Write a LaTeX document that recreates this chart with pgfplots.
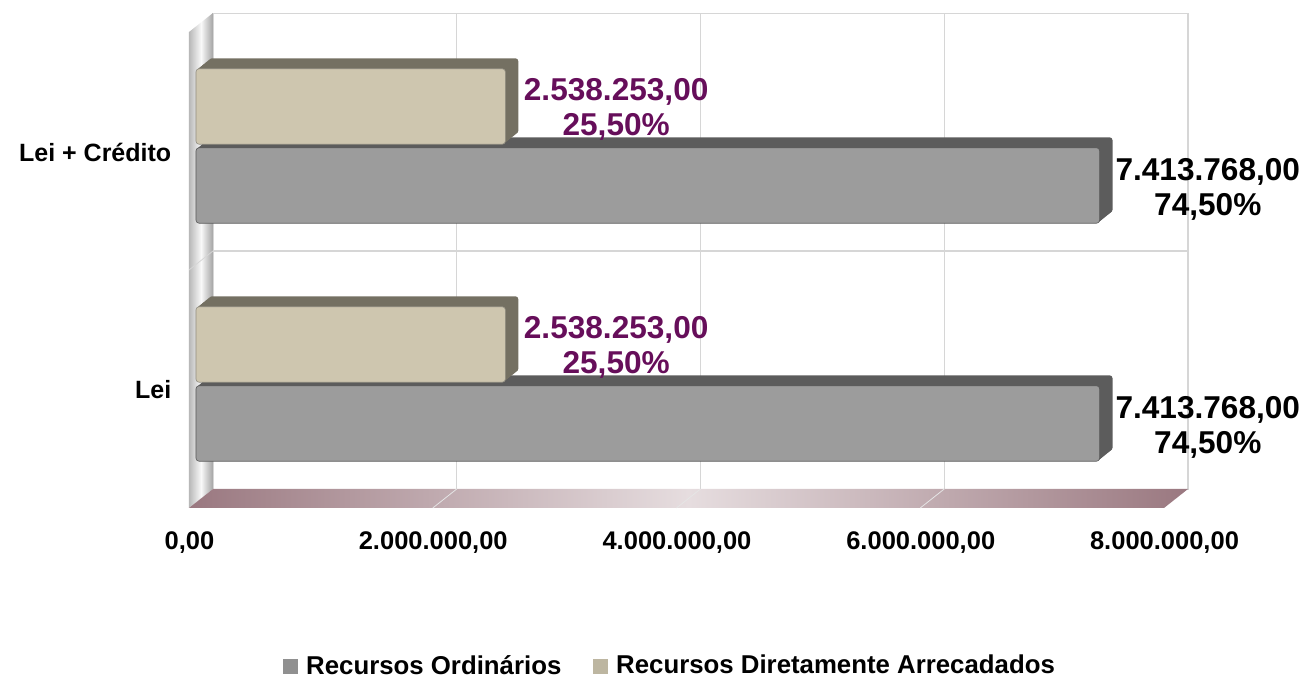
\documentclass[border=0pt]{standalone}
\usepackage{pgfplots}
\pgfplotsset{compat=1.18}
\usepackage{fontspec}
\setmainfont{Liberation Sans}
\definecolor{grayfront}{HTML}{9C9C9C}
\definecolor{graydark}{HTML}{5C5C5C}
\definecolor{beigefront}{HTML}{CEC6AF}
\definecolor{beigedark}{HTML}{747062}
\definecolor{lblpurple}{HTML}{660E5A}
\definecolor{gridc}{HTML}{D6D6D6}
\definecolor{floorc}{HTML}{9A7880}
\definecolor{floorlight}{HTML}{E6DDDF}
\definecolor{wallA}{HTML}{B8B8B8}
\definecolor{wallB}{HTML}{A4A4A4}
\begin{document}
\begin{tikzpicture}
\useasboundingbox (0,0) rectangle (653.5pt,339.5pt);
\begin{axis}[
  at={(106.5pt,95pt)}, anchor=south west,
  scale only axis, width=487.5pt, height=238pt,
  xmin=0, xmax=8000000, ymin=-0.5, ymax=1.5,
  clip=false,
  scaled x ticks=false,
  axis line style={draw=gridc},
  xtick={0,2000000,4000000,6000000,8000000},
  xticklabels={{0,00},{2.000.000,00},{4.000.000,00},{6.000.000,00},{8.000.000,00}},
  ytick={0,1}, yticklabels={Lei, Lei + Crédito},
  minor ytick={0.5},
  xmajorgrids, yminorgrids,
  major grid style={draw=gridc, line width=0.6pt},
  minor grid style={draw=gridc, line width=0.6pt},
  major tick length=0pt, minor tick length=0pt,
  xticklabel style={font=\bfseries\fontsize{12.75}{14}\selectfont, anchor=north, xshift=-11.75pt, yshift=-17.75pt},
  yticklabel style={font=\bfseries\fontsize{12.5}{14}\selectfont, anchor=east, xshift=-17.35pt, yshift=-10pt},
  legend columns=2,
  legend cell align=left,
  legend style={draw=none, fill=none, at={(axis description cs:0.0718,-0.372)}, anchor=west, inner sep=0pt,
    font=\bfseries\fontsize{12.9}{14}\selectfont,
    /tikz/every odd column/.append style={column sep=2pt},
    /tikz/every even column/.append style={column sep=14pt}},
]
% walls
\shade[left color=wallA, right color=wallB, middle color=white!95!gray]
  (rel axis cs:0,1) -- ([xshift=-12pt,yshift=-9.5pt]rel axis cs:0,1)
  -- ([xshift=-12pt,yshift=-9.5pt]rel axis cs:0,0) -- (rel axis cs:0,0) -- cycle;
\shade[left color=floorc, right color=floorc, middle color=floorlight]
  (rel axis cs:0,0) -- (rel axis cs:1,0)
  -- ([xshift=-12pt,yshift=-9.5pt]rel axis cs:1,0) -- ([xshift=-12pt,yshift=-9.5pt]rel axis cs:0,0) -- cycle;
\draw[white!80!gray] (axis cs:2000000,-0.5) -- ([xshift=-12pt,yshift=-9.5pt]axis cs:2000000,-0.5);
\draw[white!80!gray] (axis cs:4000000,-0.5) -- ([xshift=-12pt,yshift=-9.5pt]axis cs:4000000,-0.5);
\draw[white!80!gray] (axis cs:6000000,-0.5) -- ([xshift=-12pt,yshift=-9.5pt]axis cs:6000000,-0.5);
\draw[gridc] (axis cs:0,0.5) -- ([xshift=-12pt,yshift=-9.5pt]axis cs:0,0.5);

% Recursos Ordinarios: depth then front
\pgfplotsinvokeforeach{0,...,11}{
  \addplot[xbar, forget plot, bar width=0.317, bar shift=-0.166, fill=graydark, draw=none, rounded corners=1.5pt,
     xshift={-2pt-#1*0.5417pt}, yshift={-1.75pt-#1*0.4375pt}]
     coordinates {(7413768,0) (7413768,1)};
}
\addplot[xbar, forget plot, bar width=0.317, bar shift=-0.166, fill=grayfront, draw=gray!70!black, line width=0.3pt, rounded corners=1.5pt,
  xshift=-8.5pt, yshift=-7pt,
  nodes near coords={7.413.768,00\\74,50\%},
  every node near coord/.style={anchor=west, align=center, font=\bfseries\fontsize{15.8}{17.5}\selectfont, text=black, xshift=4.5pt, yshift=-21.75pt}]
  coordinates {(7413768,0) (7413768,1)};

% Recursos Diretamente Arrecadados
\pgfplotsinvokeforeach{0,...,11}{
  \addplot[xbar, forget plot, bar width=0.317, bar shift=0.166, fill=beigedark, draw=none, rounded corners=1.5pt,
     xshift={-2pt-#1*0.5417pt}, yshift={-1.75pt-#1*0.4375pt}]
     coordinates {(2538253,0) (2538253,1)};
}
\addplot[xbar, forget plot, bar width=0.317, bar shift=0.166, fill=beigefront, draw=beigedark!80, line width=0.3pt, rounded corners=1.5pt,
  xshift=-8.5pt, yshift=-7pt,
  nodes near coords={2.538.253,00\\25,50\%},
  every node near coord/.style={anchor=west, align=center, font=\bfseries\fontsize{15.8}{17.5}\selectfont, text=lblpurple, xshift=5.8pt, yshift=18.5pt}]
  coordinates {(2538253,0) (2538253,1)};

\addlegendimage{legend image code/.code={\fill[grayfront!92!black] (0pt,-3.5pt) rectangle (7pt,3.5pt);}}
\addlegendentry{Recursos Ordinários}
\addlegendimage{legend image code/.code={\fill[beigefront!92!black] (0pt,-3.5pt) rectangle (7pt,3.5pt);}}
\addlegendentry{Recursos Diretamente Arrecadados}
\end{axis}
\end{tikzpicture}
\end{document}
